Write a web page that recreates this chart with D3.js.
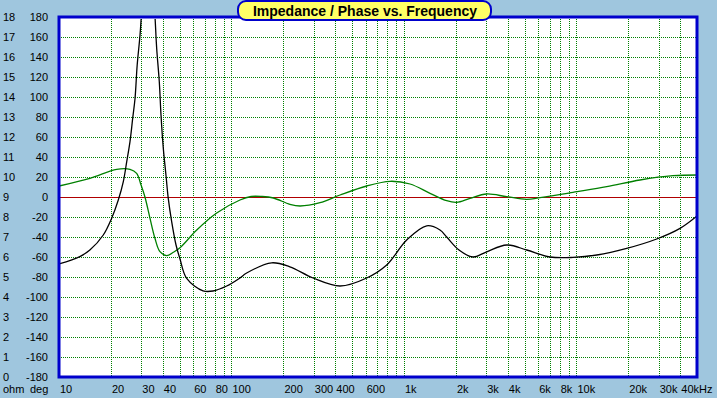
<!DOCTYPE html>
<html>
<head>
<meta charset="utf-8">
<script src="https://cdn.jsdelivr.net/npm/d3@7"></script>
<style>
  html, body { margin: 0; padding: 0; background: #9fc6de; }
  svg { display: block; font-family: "Liberation Sans", Arial, sans-serif; }
</style>
</head>
<body>
<svg id="chart" width="717" height="398"></svg>
<script>
// impedance curve (ohm)
const zFreq = [10, 13.2, 15.1, 18.06, 20.2, 22.07, 23.6, 24.7, 25.8, 26.75, 27.6, 28.4, 29.5, 30.5, 33, 35.5,
  36.86, 38.15, 39.03, 40.25, 41.7, 43, 45, 47.7, 50.3, 55,
  68.4, 78.1, 93.8, 111, 122.5, 171, 218, 297, 426, 608, 794, 1037, 1355, 1618, 1769, 2085, 2514, 3018,
  3942, 5148, 7026, 9550, 13110, 19560, 29200, 39860, 50000];
const zOhm = [5.65, 6.02, 6.35, 7.1, 7.94, 8.85, 9.77, 10.77, 11.77, 12.94, 13.94, 15.6, 17.1, 18.8, 21, 18.8,
  16.4, 14.76, 13.1, 11.43, 10.1, 8.93, 7.77, 6.6, 5.9, 4.93,
  4.31, 4.3, 4.55, 4.93, 5.2, 5.71, 5.51, 4.95, 4.55, 4.95, 5.6, 6.85, 7.56, 7.35, 7.0, 6.35, 6.0, 6.26,
  6.6, 6.35, 6.0, 5.98, 6.1, 6.43, 6.9, 7.43, 8.05];

// phase curve (deg)
const pFreq = [10, 15.1, 21.6, 25.8, 28.2, 29.9, 31.5, 33.7, 36, 38.5, 42.1, 46, 50.3, 62.9, 82.1, 112, 130, 150, 175, 218, 250,
  326, 426, 608, 830, 1084, 1416, 1769, 2022, 2415, 3018, 3942, 5148, 6150, 9550, 14980, 23360, 36300, 50000];
const pDeg = [11, 18.7, 27.7, 27.7, 23.7, 12, 0, -21.3, -41.3, -54.7, -58.7, -55.3, -50.7, -33, -16, -3, 0.5, 0.5, -1, -7.3, -9,
  -5.7, 2, 11, 15.7, 13, 3.7, -3.7, -5.3, -1.3, 3, 0.3, -2.3, -0.7, 4.7, 10.3, 17, 21.3, 22];

const ohmTicks = d3.range(0, 19);
const degTicks = d3.range(-180, 181, 20);
const freqGrid = [10, 20, 30, 40, 50, 60, 70, 80, 90, 100, 200, 300, 400, 500, 600, 700, 800, 900,
  1000, 2000, 3000, 4000, 5000, 6000, 7000, 8000, 9000, 10000, 20000, 30000, 40000];
const freqLabelAt = [10, 20, 30, 40, 60, 80, 100, 200, 300, 400, 600, 1000, 2000, 3000, 4000, 6000, 8000, 10000, 20000, 30000, 40000];
const freqLabels = ['10', '20', '30', '40', '60', '80', '100', '200', '300', '400', '600', '1k', '2k', '3k', '4k', '6k', '8k', '10k', '20k', '30k', '40kHz'];

const svg = d3.select('#chart');
const pLeft = 59, pRight = 697, pTop = 17, pBottom = 377;

const x = d3.scaleLog().domain([10, 50000]).range([pLeft, pRight]);
const yDeg = d3.scaleLinear().domain([-180, 180]).range([pBottom, pTop]);
const yOhm = d3.scaleLinear().domain([0, 18]).range([pBottom, pTop]);

svg.append('rect').attr('width', 717).attr('height', 398).attr('fill', '#9fc6de');

svg.append('rect')
  .attr('x', pLeft).attr('y', pTop)
  .attr('width', pRight - pLeft).attr('height', pBottom - pTop)
  .attr('fill', '#ffffff');

svg.append('defs').append('clipPath').attr('id', 'plotclip')
  .append('rect').attr('x', pLeft).attr('y', pTop + 2).attr('width', pRight - pLeft).attr('height', pBottom - pTop - 2);

// grid
const grid = svg.append('g').attr('stroke', '#008000').attr('stroke-width', 1).attr('stroke-dasharray', '1,1');
grid.selectAll('.hg').data(degTicks.slice(1, -1)).enter().append('line')
  .attr('x1', pLeft).attr('x2', pRight)
  .attr('y1', d => Math.round(yDeg(d)) + 0.5).attr('y2', d => Math.round(yDeg(d)) + 0.5);
grid.selectAll('.vg').data(freqGrid.slice(1)).enter().append('line')
  .attr('y1', pTop).attr('y2', pBottom)
  .attr('x1', d => Math.round(x(d)) + 0.5).attr('x2', d => Math.round(x(d)) + 0.5);

// zero phase line
svg.append('line')
  .attr('x1', pLeft).attr('x2', pRight)
  .attr('y1', Math.round(yDeg(0)) + 0.5).attr('y2', Math.round(yDeg(0)) + 0.5)
  .attr('stroke', '#b00000').attr('stroke-width', 1.2);

const plot = svg.append('g').attr('clip-path', 'url(#plotclip)');

const phaseLine = d3.line()
  .x((d, i) => x(pFreq[i])).y(d => yDeg(d))
  .curve(d3.curveCatmullRom.alpha(0.5));
plot.append('path').attr('d', phaseLine(pDeg))
  .attr('fill', 'none').attr('stroke', '#008000').attr('stroke-width', 1.3);

const zLine = d3.line()
  .x((d, i) => x(zFreq[i])).y(d => yOhm(d))
  .curve(d3.curveCatmullRom.alpha(0.5));
plot.append('path').attr('d', zLine(zOhm))
  .attr('fill', 'none').attr('stroke', '#000000').attr('stroke-width', 1.3);

// frame
svg.append('path')
  .attr('d', `M${pLeft},${pBottom}V${pTop}H${pRight}V${pBottom}Z`)
  .attr('fill', 'none').attr('stroke', '#0000cc').attr('stroke-width', 3);

// y labels
const ylab = svg.append('g').attr('font-size', 11).attr('fill', '#000');
ylab.selectAll('.ohm').data(ohmTicks).enter().append('text')
  .attr('x', 3).attr('y', d => yOhm(d)).attr('dy', '0.35em')
  .text(d => d);
ylab.selectAll('.deg').data(degTicks).enter().append('text')
  .attr('x', 48).attr('y', d => yDeg(d)).attr('dy', '0.35em')
  .attr('text-anchor', 'end')
  .text(d => d);

// x labels
const xlab = svg.append('g').attr('font-size', 11).attr('fill', '#000');
xlab.selectAll('text').data(freqLabelAt).enter().append('text')
  .attr('x', d => x(d) + 1).attr('y', 393)
  .text((d, i) => freqLabels[i]);
xlab.append('text').attr('x', 3).attr('y', 393).text('ohm');
xlab.append('text').attr('x', 30).attr('y', 393).text('deg');

// title
svg.append('rect')
  .attr('x', 238).attr('y', 1).attr('width', 253).attr('height', 19)
  .attr('rx', 8).attr('ry', 8)
  .attr('fill', '#ffff66').attr('stroke', '#0000cc').attr('stroke-width', 2);
svg.append('text')
  .attr('x', 365).attr('y', 15.5)
  .attr('text-anchor', 'middle')
  .attr('font-size', 14).attr('font-weight', 'bold')
  .text('Impedance / Phase vs. Frequency');
</script>
</body>
</html>
